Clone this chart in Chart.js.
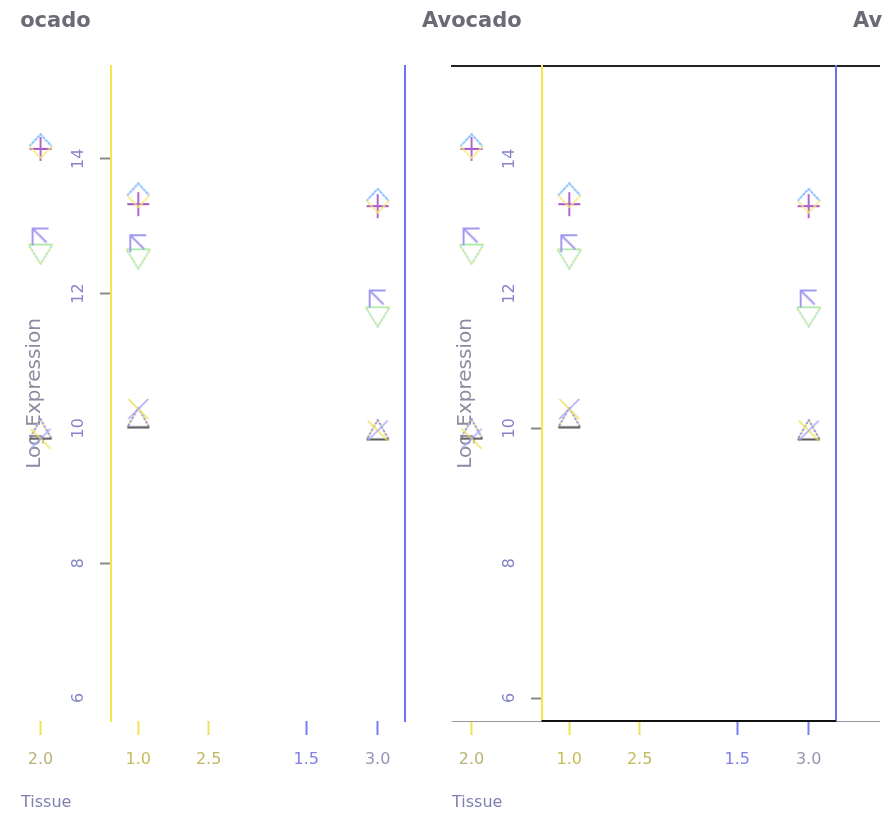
<!DOCTYPE html>
<html><head><meta charset="utf-8">
<script src="https://cdn.jsdelivr.net/npm/chart.js@4.4.1/dist/chart.umd.min.js"></script>
<style>
html,body{margin:0;padding:0;width:895px;height:816px;overflow:hidden;background:#fff;}
#clip{position:absolute;left:20px;top:0;width:863px;height:816px;overflow:hidden;}
canvas{position:absolute;top:0;}
</style></head><body>
<div id="clip">
<canvas id="p0" width="470" height="816" style="left:-29px;width:470px;height:816px"></canvas>
<canvas id="p1" width="470" height="816" style="left:402px;width:470px;height:816px"></canvas>
<canvas id="p2" width="470" height="816" style="left:833px;width:470px;height:816px"></canvas>
</div>
<script>
// ---- data ----
const panelTitles = ['Avocado', 'Avocado', 'Avocado'];
const tissueLabels = ['2.0', '1.0', '2.5', '1.5', '3.0'];
const tissueTicks = [0, 1, 1.72, 2.72, 3.45];
const pointTissues = ['2.0', '1.0', '3.0'];
const yTicks = [6, 8, 10, 12, 14];
const yRange = [5.66, 15.38];
const xRange = [-0.2, 4.17];
const boxLeftAt = 0.716;
const boxRightAt = 3.73;
const seriesNames = ['Series 1', 'Series 2', 'Series 3', 'Series 4', 'Series 5', 'Series 6'];
const series1 = [14.19, 13.46, 13.38];
const series2 = [14.15, 13.33, 13.30];
const series3 = [12.85, 12.75, 11.93];
const series4 = [12.59, 12.52, 11.66];
const series5 = [9.85, 10.29, 9.97];
const series6 = [9.99, 10.16, 9.98];

// ---- styles ----
Chart.defaults.font.family = "'DejaVu Sans', sans-serif";
const xTickLabelColors = ['#b9b27a', '#c7bd55', '#c2b85e', '#7f7fe6', '#9595b8'];
const xTickMarkColors = ['#f0e257', '#f0e257', '#f0e257', '#7d7df2', '#7d7df2'];
// which y tick marks are visible in each panel (index follows yTicks)
const yTickMarkVisible = [
  [false, true, false, true, true],
  [true, false, true, false, false],
  [true, true, true, true, true]
];

function sym(w, h, draw) {
  const c = document.createElement('canvas');
  c.width = w; c.height = h;
  const g = c.getContext('2d');
  draw(g);
  return c;
}
function seg(g, pts, color, width, dash, off) {
  g.beginPath();
  g.moveTo(pts[0][0], pts[0][1]);
  for (let i = 1; i < pts.length; i++) g.lineTo(pts[i][0], pts[i][1]);
  g.strokeStyle = color; g.lineWidth = width;
  g.setLineDash(dash || []); g.lineDashOffset = off || 0;
  g.stroke();
}
function twoTone(g, pts, c1, c2, w) {
  seg(g, pts, c1, w, [2, 2], 0);
  seg(g, pts, c2, w, [2, 2], 2);
}
const symbols = [
  sym(24, 26, g => { // diamond
    twoTone(g, [[1, 13], [12, 1], [23, 13]], '#5aa8ff', '#9ccbff', 1.6);
    twoTone(g, [[23, 13], [12, 25], [1, 13]], '#f2e25a', '#f8ee9c', 1.6);
  }),
  sym(24, 26, g => { // plus
    seg(g, [[1, 13], [23, 13]], '#a955c2', 2);
    seg(g, [[12, 1], [12, 25]], '#b565d2', 2);
  }),
  sym(20, 20, g => { // arrow-corner
    seg(g, [[2, 19], [2, 2], [18, 2]], '#a39af0', 2);
    seg(g, [[2, 2], [16, 16]], '#a39af0', 2);
  }),
  sym(26, 22, g => { // inverted triangle
    seg(g, [[1, 1.5], [25, 1.5]], '#9ee89e', 1.6);
    twoTone(g, [[25, 1.5], [13, 21], [1, 1.5]], '#f0e460', '#7fe3e8', 1.6);
  }),
  sym(22, 22, g => { // X
    seg(g, [[1, 1], [21, 21]], '#efe060', 1.6);
    seg(g, [[21, 1], [1, 21]], '#a9a9f5', 1.6);
  }),
  sym(24, 22, g => { // triangle
    twoTone(g, [[1, 20.5], [12, 1], [23, 20.5]], '#f0e060', '#6f6ff5', 1.6);
    seg(g, [[1, 20.5], [23, 20.5]], '#555555', 2);
  })
];
const seriesColors = ['#5aa8ff', '#a955c2', '#a39af0', '#9ee89e', '#a9a9f5', '#6f6ff5'];
const allSeries = [series1, series2, series3, series4, series5, series6];

const frameSegment = {
  id: 'frameSegment',
  afterDraw(chart, args, opts) {
    if (!opts.show) return;
    const xs = chart.scales.x, a = chart.chartArea, ctx = chart.ctx;
    ctx.save();
    ctx.strokeStyle = '#111'; ctx.lineWidth = 2;
    ctx.beginPath();
    ctx.moveTo(xs.getPixelForValue(boxLeftAt), a.bottom);
    ctx.lineTo(xs.getPixelForValue(boxRightAt), a.bottom);
    ctx.stroke();
    ctx.restore();
  }
};

function xOf(label) { return tissueTicks[tissueLabels.indexOf(label)]; }

function makePanel(id, idx) {
  const framed = idx === 1;
  const datasets = allSeries.map((vals, s) => ({
    label: seriesNames[s],
    data: vals.map((v, i) => ({ x: xOf(pointTissues[i]), y: v })),
    pointStyle: symbols[s],
    pointRadius: 12,
    borderColor: seriesColors[s],
    backgroundColor: seriesColors[s],
    showLine: false,
    clip: false
  }));
  return new Chart(document.getElementById(id), {
    type: 'scatter',
    data: { datasets },
    plugins: [frameSegment],
    options: {
      responsive: false,
      animation: false,
      layout: { padding: { left: 0, right: 10, top: 0, bottom: 0 } },
      plugins: {
        legend: { display: false },
        tooltip: { enabled: false },
        frameSegment: { show: framed },
        title: {
          display: true, text: panelTitles[idx], align: 'start',
          color: '#6b6b78',
          font: { size: 21, weight: 'bold' },
          padding: { top: 9.4, bottom: 31.4 }
        }
      },
      scales: {
        x: {
          type: 'linear', position: 'bottom', min: xRange[0], max: xRange[1],
          afterBuildTicks: s => { s.ticks = tissueTicks.map(v => ({ value: v })); },
          ticks: {
            autoSkip: false, maxRotation: 0, padding: 15,
            font: { size: 16 },
            color: c => xTickLabelColors[c.index],
            callback: (v, i) => tissueLabels[i]
          },
          grid: {
            drawOnChartArea: false, drawTicks: true, tickLength: 14, tickWidth: 2,
            tickColor: c => xTickMarkColors[c.index]
          },
          border: { display: framed, color: '#9a9a9a', width: 1 },
          title: {
            display: true, text: 'Tissue', align: 'start', color: '#7e7eb0',
            font: { size: 16 }, padding: { top: 9.2, bottom: 3.4 }
          }
        },
        xTop: {
          type: 'linear', position: 'top', display: framed, min: xRange[0], max: xRange[1],
          ticks: { display: false },
          grid: { display: false, drawTicks: false },
          border: { display: true, color: '#222', width: 2 }
        },
        yLab: {
          type: 'linear', position: 'left', min: yRange[0], max: yRange[1],
          afterBuildTicks: s => { s.ticks = yTicks.map(v => ({ value: v })); },
          afterFit: s => { s.width = 30; s.paddingTop = 0; s.paddingBottom = 0; },
          ticks: {
            autoSkip: false, minRotation: 90, maxRotation: 90, mirror: true,
            padding: 58, labelOffset: 10, font: { size: 16 }, color: '#8585c8',
            callback: v => (String(v).length === 1 ? '\u2008' : '') + v
          },
          grid: { display: false, drawTicks: false },
          border: { display: false },
          title: {
            display: true, text: 'Log Expression', color: '#8c8ca0',
            font: { size: 20 }, padding: { top: 32, bottom: 0 }
          }
        },
        y: {
          type: 'linear', position: { x: boxLeftAt }, min: yRange[0], max: yRange[1],
          afterBuildTicks: s => { s.ticks = yTicks.map(v => ({ value: v })); },
          ticks: { display: false },
          grid: {
            drawOnChartArea: false, drawTicks: true, tickLength: 10, tickWidth: 2,
            tickColor: c => (yTickMarkVisible[idx][c.index] ? '#8a8a8a' : 'rgba(0,0,0,0)')
          },
          border: { display: true, color: '#f5e64e', width: 2 }
        },
        yRight: {
          type: 'linear', position: { x: boxRightAt }, min: yRange[0], max: yRange[1],
          ticks: { display: false },
          grid: { display: false, drawTicks: false },
          border: { display: true, color: '#6f6ff7', width: 2 }
        }
      }
    }
  });
}
['p0', 'p1', 'p2'].forEach((id, i) => makePanel(id, i));
</script>
</body></html>
